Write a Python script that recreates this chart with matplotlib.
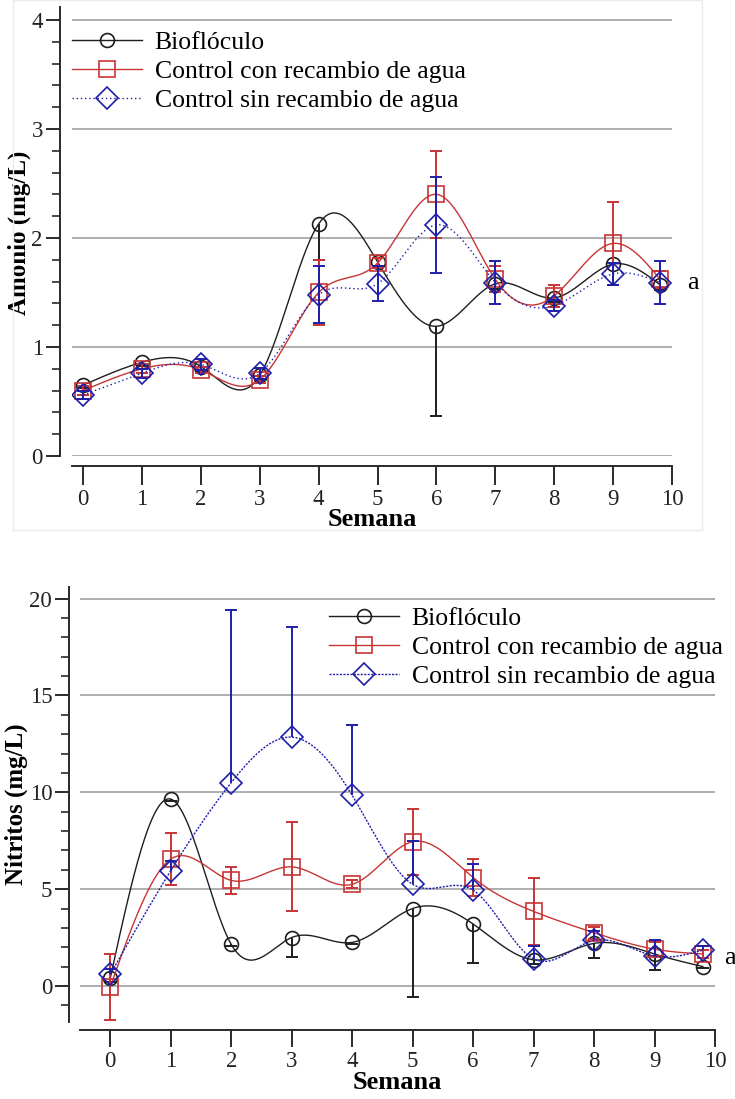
import numpy as np
import matplotlib
matplotlib.use('Agg')
import matplotlib.pyplot as plt
from matplotlib.lines import Line2D
from matplotlib.patches import Rectangle
from matplotlib.ticker import MultipleLocator

plt.rcParams['font.family'] = ['Liberation Serif', 'DejaVu Serif']

labels = ['Bioflóculo', 'Control con recambio de agua', 'Control sin recambio de agua']
weeks = [0, 1, 2, 3, 4, 5, 6, 7, 8, 9, 9.8]

# Amonio (mg/L): means, error below / above
amo_bio    = [0.65, 0.86, 0.82, 0.74, 2.13, 1.78, 1.19, 1.58, 1.45, 1.76, 1.57]
amo_bio_lo = [0.03, 0.03, 0.05, 0.04, 0.33, 0.04, 0.82, 0.05, 0.04, 0.19, 0.05]
amo_bio_hi = [0, 0, 0, 0, 0, 0, 0, 0, 0, 0, 0]
amo_con    = [0.60, 0.80, 0.79, 0.70, 1.50, 1.77, 2.40, 1.62, 1.47, 1.95, 1.62]
amo_con_er = [0.04, 0.04, 0.03, 0.03, 0.30, 0.05, 0.40, 0.12, 0.10, 0.38, 0.08]
amo_sin    = [0.56, 0.76, 0.84, 0.76, 1.48, 1.58, 2.12, 1.59, 1.38, 1.67, 1.59]
amo_sin_er = [0.04, 0.04, 0.05, 0.05, 0.26, 0.16, 0.44, 0.20, 0.05, 0.10, 0.20]

# Nitritos (mg/L)
nit_bio    = [0.40, 9.65, 2.15, 2.50, 2.25, 4.00, 3.20, 1.35, 2.20, 1.65, 1.00]
nit_bio_lo = [0.20, 0.10, 0.10, 1.02, 0.10, 4.55, 2.02, 0.20, 0.75, 0.85, 0.05]
nit_bio_hi = [0, 0, 0, 0, 0, 0, 0, 0, 0, 0, 0]
nit_con    = [-0.05, 6.55, 5.45, 6.15, 5.25, 7.45, 5.60, 3.85, 2.75, 1.90, 1.65]
nit_con_er = [1.70, 1.35, 0.70, 2.30, 0.20, 1.70, 0.95, 1.75, 0.30, 0.35, 0.20]
nit_sin    = [0.60, 5.95, 10.50, 12.85, 9.85, 5.25, 4.95, 1.40, 2.35, 1.55, 1.85]
nit_sin_hi = [0.30, 0.50, 8.90, 5.70, 3.60, 2.25, 1.35, 0.65, 0.50, 0.80, 0.20]
nit_sin_lo = [0, 0, 0, 0, 0, 0, 0, 0, 0, 0, 0]

BLACK = '#1e1e1e'
RED = '#c83434'
BLUE = '#1e1eaa'


def natural_spline(x, y, n=500):
    x = np.asarray(x, float)
    y = np.asarray(y, float)
    h = np.diff(x)
    k = len(x)
    A = np.zeros((k, k))
    r = np.zeros(k)
    A[0, 0] = A[-1, -1] = 1
    for i in range(1, k - 1):
        A[i, i - 1] = h[i - 1]
        A[i, i] = 2 * (h[i - 1] + h[i])
        A[i, i + 1] = h[i]
        r[i] = 3 * ((y[i + 1] - y[i]) / h[i] - (y[i] - y[i - 1]) / h[i - 1])
    c = np.linalg.solve(A, r)
    b = (y[1:] - y[:-1]) / h - h * (2 * c[:-1] + c[1:]) / 3
    d = (c[1:] - c[:-1]) / (3 * h)
    xs = np.linspace(x[0], x[-1], n)
    idx = np.clip(np.searchsorted(x, xs) - 1, 0, k - 2)
    t = xs - x[idx]
    return xs, y[idx] + b[idx] * t + c[idx] * t ** 2 + d[idx] * t ** 3


def draw_series(ax, y, lo, hi, color, marker, ms, ls, z):
    xs, ys = natural_spline(weeks, y)
    ax.plot(xs, ys, color=color, lw=1.0, ls=ls, zorder=z)
    x = np.array(weeks)
    yv = np.array(y)
    lo = np.array(lo)
    hi = np.array(hi)
    ax.vlines(x, yv - lo, yv + hi, color=color, lw=1.4, zorder=z + 0.2)
    for m, ycap in ((lo > 0, yv - lo), (hi > 0, yv + hi)):
        ax.plot(x[m], ycap[m], ls='none', marker='_', ms=9, mew=1.4,
                color=color, zorder=z + 0.2)
    ax.plot(x, yv, ls='none', marker=marker, ms=ms, mfc='none', mec=color,
            mew=1.2, zorder=z + 0.5)


def style_axes(ax, xlim, ylim, ybounds, ymaj, ymin, lpad, bpad, xtick_len):
    ax.set_xlim(*xlim)
    ax.set_ylim(*ylim)
    for s in ('top', 'right'):
        ax.spines[s].set_visible(False)
    ax.spines['left'].set_position(('outward', lpad))
    ax.spines['left'].set_bounds(*ybounds)
    ax.spines['bottom'].set_position(('outward', bpad))
    for s in ('left', 'bottom'):
        ax.spines[s].set_linewidth(1.4)
        ax.spines[s].set_color('#2a2a2a')
    ax.set_xticks(range(0, 11))
    ax.yaxis.set_major_locator(MultipleLocator(ymaj))
    ax.yaxis.set_minor_locator(MultipleLocator(ymin))
    ax.tick_params(axis='x', length=xtick_len, width=1.4, color='#2a2a2a',
                   labelsize=16.5, pad=3, labelcolor='#222222')
    ax.tick_params(axis='y', which='major', length=10, width=1.4,
                   color='#2a2a2a', labelsize=16.5, pad=2, labelcolor='#222222')
    ax.tick_params(axis='y', which='minor', length=6, width=1.2,
                   color='#2a2a2a')
    ax.yaxis.grid(True, which='major', color='#a8a8a8', lw=1.3)
    ax.set_axisbelow(True)


def legend_handles(blue_ls):
    return [
        Line2D([], [], color=BLACK, lw=1.0, marker='o', ms=10, mfc='none', mec=BLACK, mew=1.2),
        Line2D([], [], color=RED, lw=1.0, marker='s', ms=12, mfc='none', mec=RED, mew=1.2),
        Line2D([], [], color=BLUE, lw=1.0, ls=blue_ls, marker='D', ms=11.5, mfc='none', mec=BLUE, mew=1.2),
    ]


def add_legend(ax, handles, x_px, y_px):
    ax.legend(handles, labels, loc='upper left',
              bbox_to_anchor=(x_px / W, 1 - y_px / H), bbox_transform=fig.transFigure,
              frameon=False, fontsize=18.5, handlelength=2.72, handletextpad=0.5,
              labelspacing=0.24, borderpad=0, borderaxespad=0)


W, H = 735, 1099
fig = plt.figure(figsize=(W / 100, H / 100), dpi=100)
fig.patches.append(Rectangle((13 / W, 1 - 530 / H), 689 / W, 530 / H,
                             transform=fig.transFigure, fill=False,
                             ec='#ebebeb', lw=1.0))

# Amonio
ax1 = fig.add_axes([72 / W, 1 - 456 / H, 600 / W, 447 / H])
style_axes(ax1, (-0.19, 10), (0, 4.1), (0, 4.12), 1, 0.2, 9, 7, 14)
draw_series(ax1, amo_bio, amo_bio_lo, amo_bio_hi, BLACK, 'o', 10, '-', 3)
draw_series(ax1, amo_con, amo_con_er, amo_con_er, RED, 's', 12, '-', 4)
draw_series(ax1, amo_sin, amo_sin_er, amo_sin_er, BLUE, 'D', 11.5, (0, (1, 2)), 5)
ax1.get_ygridlines()[0].set_visible(False)
ax1.set_ylabel('Amonio (mg/L)', fontsize=18, fontweight='bold', va='center')
ax1.yaxis.set_label_coords(-0.088, 0.5)
ax1.set_xlabel('Semana', fontsize=19, fontweight='bold', va='center')
ax1.xaxis.set_label_coords(0.5, -0.143)
ax1.text(10.36, 1.59, 'a', fontsize=19, ha='center', va='center', clip_on=False)
add_legend(ax1, legend_handles((0, (1, 2))), 72, 31)

# Nitritos
ax2 = fig.add_axes([80 / W, 1 - 1022 / H, 635 / W, 435 / H])
style_axes(ax2, (-0.5, 10), (-1.86, 20.6), (-1.86, 20.6), 5, 1, 8, 6, 12)
draw_series(ax2, nit_bio, nit_bio_lo, nit_bio_hi, BLACK, 'o', 10, '-', 3)
draw_series(ax2, nit_con, nit_con_er, nit_con_er, RED, 's', 12, '-', 4)
draw_series(ax2, nit_sin, nit_sin_lo, nit_sin_hi, BLUE, 'D', 11.5, (0, (1.5, 1)), 5)
ax2.set_ylabel('Nitritos (mg/L)', fontsize=18, fontweight='bold', va='center')
ax2.yaxis.set_label_coords(-0.1, 0.5)
ax2.set_xlabel('Semana', fontsize=19, fontweight='bold', va='center')
ax2.xaxis.set_label_coords(0.5, -0.138)
ax2.text(10.25, 1.45, 'a', fontsize=19, ha='center', va='center', clip_on=False)
add_legend(ax2, legend_handles((0, (1.5, 1))), 329, 607)

fig.savefig('out.png', dpi=100)
